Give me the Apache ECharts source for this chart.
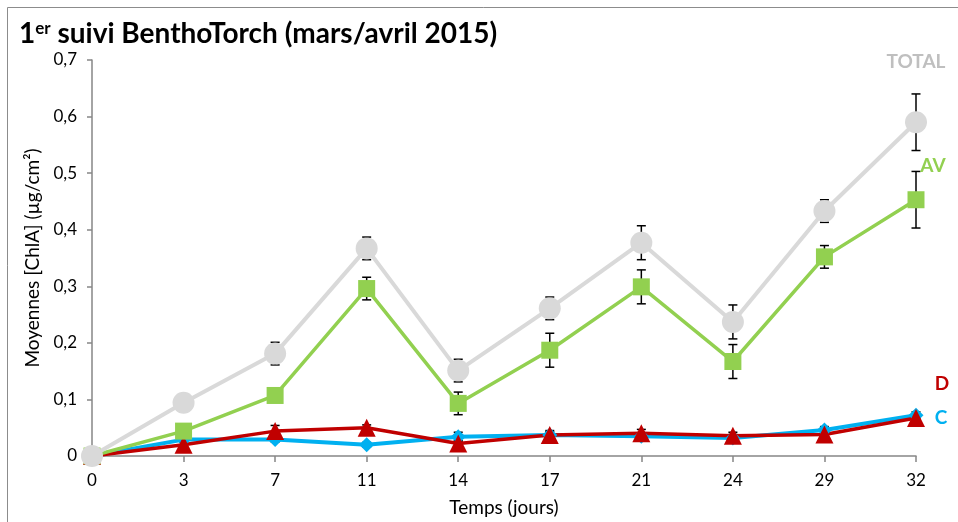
<!DOCTYPE html>
<html>
<head>
<meta charset="utf-8">
<script src="https://cdn.jsdelivr.net/npm/echarts@6/dist/echarts.min.js"></script>
<style>
  html, body { margin: 0; padding: 0; background: #fff; }
  #chart { width: 958px; height: 522px; }
</style>
</head>
<body>
<div id="chart"></div>
<script>
// sampling days
const days = ["0", "3", "7", "11", "14", "17", "21", "24", "29", "32"];

// means and error (+/-) per series
const total = [0, 0.094, 0.181, 0.367, 0.151, 0.261, 0.377, 0.237, 0.433, 0.590];
const totalErr = [0, 0.01, 0.02, 0.02, 0.02, 0.02, 0.03, 0.03, 0.02, 0.05];
const av = [0, 0.044, 0.107, 0.296, 0.093, 0.187, 0.299, 0.167, 0.352, 0.453];
const avErr = [0, 0.005, 0.01, 0.02, 0.02, 0.03, 0.03, 0.03, 0.02, 0.05];
const cVals = [0, 0.029, 0.029, 0.020, 0.034, 0.037, 0.035, 0.032, 0.046, 0.072];
const cErr = [0, 0.004, 0.004, 0.004, 0.008, 0.006, 0.005, 0.006, 0.006, 0.006];
const dVals = [0, 0.020, 0.044, 0.050, 0.022, 0.037, 0.040, 0.036, 0.038, 0.067];
const dErr = [0, 0.005, 0.01, 0.005, 0.005, 0.008, 0.007, 0.006, 0.005, 0.005];

const FONT = "Lato";

const chart = echarts.init(document.getElementById("chart"));

const errData = (vals, errs) => vals.map((v, i) => [i, v - errs[i], v + errs[i]]);

const errorBars = (name, vals, errs) => ({
  name: name + " err",
  type: "custom",
  z: 1,
  silent: true,
  data: errData(vals, errs),
  renderItem: (params, api) => {
    const top = api.coord([api.value(0), api.value(2)]);
    const bot = api.coord([api.value(0), api.value(1)]);
    const hw = 4.5;
    const style = { stroke: "#000", lineWidth: 1.5 };
    return {
      type: "group",
      children: [
        { type: "line", shape: { x1: top[0], y1: top[1], x2: bot[0], y2: bot[1] }, style },
        { type: "line", shape: { x1: top[0] - hw, y1: top[1], x2: top[0] + hw, y2: top[1] }, style },
        { type: "line", shape: { x1: bot[0] - hw, y1: bot[1], x2: bot[0] + hw, y2: bot[1] }, style },
      ],
    };
  },
});

const lineSeries = (name, vals, color, symbol, size, width, labelOpt) => ({
  name: name,
  type: "line",
  z: 3,
  data: vals.map((v, i) =>
    i === vals.length - 1
      ? {
          value: v,
          label: Object.assign(
            {
              show: true,
              formatter: name,
              position: "inside",
              color: labelOpt.color || color,
              fontFamily: FONT,
              fontWeight: "bold",
              fontSize: 19,
            },
            labelOpt
          ),
        }
      : v
  ),
  symbol: symbol,
  symbolSize: size,
  showAllSymbol: true,
  lineStyle: { color: color, width: width },
  itemStyle: { color: color, opacity: 1 },
  emphasis: { disabled: true },
});

const option = {
  animation: false,
  backgroundColor: "#fff",
  title: {
    text: "{a|1}{sup|er}{a| suivi BenthoTorch (mars/avril 2015)}",
    left: 14,
    top: 15,
    textStyle: {
      rich: {
        a: { fontFamily: FONT, fontWeight: "bold", fontSize: 28, color: "#000" },
        sup: { fontFamily: FONT, fontWeight: "bold", fontSize: 17, color: "#000", padding: [0, 0, 11, 0] },
      },
    },
  },
  graphic: [
    {
      type: "rect",
      shape: { x: 7.5, y: 7.5, width: 1000, height: 1000 },
      style: { fill: "none", stroke: "#8c8c8c", lineWidth: 1 },
      z: -1,
    },
  ],
  grid: {
    left: 92,
    right: 42,
    top: 60,
    bottom: 62,
  },
  xAxis: {
    type: "category",
    data: days,
    boundaryGap: false,
    name: "Temps (jours)",
    nameLocation: "middle",
    nameGap: 42,
    nameTextStyle: { fontFamily: FONT, fontSize: 19, color: "#000" },
    axisLine: { lineStyle: { color: "#868686", width: 1.5 } },
    axisTick: { show: true, length: 6, alignWithLabel: true, lineStyle: { color: "#868686", width: 1.5 } },
    axisLabel: { fontFamily: FONT, fontSize: 17, color: "#000", margin: 16 },
    splitLine: { show: false },
  },
  yAxis: {
    type: "value",
    min: 0,
    max: 0.7,
    interval: 0.1,
    name: "Moyennes [ChlA] (µg/cm²)",
    nameLocation: "middle",
    nameGap: 50,
    nameTextStyle: { fontFamily: FONT, fontSize: 19, color: "#000" },
    axisLine: { show: true, lineStyle: { color: "#868686", width: 1.5 } },
    axisTick: { show: true, length: 5, lineStyle: { color: "#868686", width: 1.5 } },
    axisLabel: {
      fontFamily: FONT,
      fontSize: 17,
      color: "#000",
      margin: 15,
      formatter: (v) => (v === 0 ? "0" : v.toFixed(1).replace(".", ",")),
    },
    splitLine: { show: false },
  },
  series: [
    errorBars("C", cVals, cErr),
    errorBars("D", dVals, dErr),
    errorBars("AV", av, avErr),
    errorBars("TOTAL", total, totalErr),
    lineSeries("C", cVals, "#00b0f0", "diamond", 15, 4, { offset: [25, 3] }),
    lineSeries("D", dVals, "#c00000", "triangle", 18, 3.5, { offset: [26, -34] }),
    lineSeries("AV", av, "#92d050", "rect", 17, 3.5, { offset: [17, -34] }),
    lineSeries("TOTAL", total, "#d9d9d9", "circle", 22, 4, { offset: [0, -60], color: "#bfbfbf" }),
  ],
};

chart.setOption(option);
</script>
</body>
</html>
